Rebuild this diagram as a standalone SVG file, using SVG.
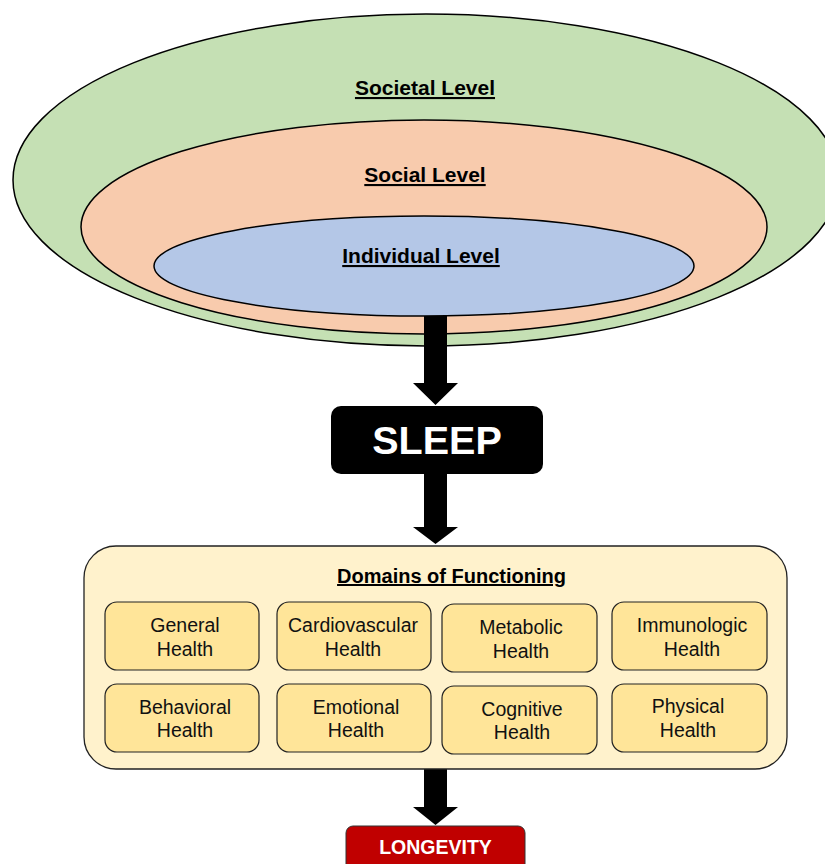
<svg xmlns="http://www.w3.org/2000/svg" width="825" height="864" viewBox="0 0 825 864">
  <style>
    .lvl { font-family: "Liberation Sans", Arial, sans-serif; font-weight: bold; font-size: 21px; text-decoration: underline; fill: #000; text-anchor: middle; }
    .ring { stroke: #000; stroke-width: 1.5; }
    .dom { fill: #ffe599; stroke: #222; stroke-width: 1.2; }
    .dt { font-family: "Liberation Sans", Arial, sans-serif; font-size: 19.5px; fill: #111; text-anchor: middle; }
    .arrow { fill: #000; }
  </style>

  <!-- nested levels -->
  <g id="societal">
    <ellipse class="ring" cx="426" cy="180" rx="413" ry="166" fill="#c5e0b4"/>
    <text class="lvl" x="425" y="95">Societal Level</text>
  </g>
  <g id="social">
    <ellipse class="ring" cx="424" cy="227" rx="343" ry="107" fill="#f8cbad"/>
    <text class="lvl" x="425" y="182">Social Level</text>
  </g>
  <g id="individual">
    <ellipse class="ring" cx="424" cy="266" rx="270" ry="50" fill="#b4c7e7"/>
    <text class="lvl" x="421" y="263">Individual Level</text>
  </g>

  <!-- block arrows -->
  <g id="connectors">
    <polygon class="arrow" points="424,316 447,316 447,383 458,383 435.5,405 413,383 424,383"/>
    <polygon class="arrow" points="424,474 447,474 447,527 458,527 435.5,544 413,527 424,527"/>
    <polygon class="arrow" points="424,769 447,769 447,807 458,807 435.5,825 413,807 424,807"/>
  </g>

  <g id="sleep">
    <rect x="331" y="406" width="212" height="68" rx="10" fill="#000"/>
    <text x="437" y="454" font-family="'Liberation Sans', Arial, sans-serif" font-weight="bold" font-size="39.5" fill="#fff" text-anchor="middle">SLEEP</text>
  </g>

  <g id="domains">
    <rect x="84" y="546" width="703" height="223" rx="32" fill="#fff2cc" stroke="#222" stroke-width="1.3"/>
    <text x="451.5" y="583" font-family="'Liberation Sans', Arial, sans-serif" font-weight="bold" font-size="20" text-decoration="underline" fill="#000" text-anchor="middle">Domains of Functioning</text>
  </g>

  <g id="general">
    <rect class="dom" x="105" y="602" width="154" height="68" rx="12"/>
    <text class="dt" x="185" y="632">General</text>
    <text class="dt" x="185" y="656">Health</text>
  </g>
  <g id="cardiovascular">
    <rect class="dom" x="277" y="602" width="154" height="68" rx="12"/>
    <text class="dt" x="353" y="632">Cardiovascular</text>
    <text class="dt" x="353" y="656">Health</text>
  </g>
  <g id="metabolic">
    <rect class="dom" x="442" y="604" width="155" height="68" rx="12"/>
    <text class="dt" x="521" y="634">Metabolic</text>
    <text class="dt" x="521" y="658">Health</text>
  </g>
  <g id="immunologic">
    <rect class="dom" x="612" y="602" width="155" height="68" rx="12"/>
    <text class="dt" x="692" y="632">Immunologic</text>
    <text class="dt" x="692" y="656">Health</text>
  </g>
  <g id="behavioral">
    <rect class="dom" x="105" y="684" width="154" height="68" rx="12"/>
    <text class="dt" x="185" y="714">Behavioral</text>
    <text class="dt" x="185" y="737">Health</text>
  </g>
  <g id="emotional">
    <rect class="dom" x="277" y="684" width="154" height="68" rx="12"/>
    <text class="dt" x="356" y="714">Emotional</text>
    <text class="dt" x="356" y="737">Health</text>
  </g>
  <g id="cognitive">
    <rect class="dom" x="442" y="686" width="155" height="68" rx="12"/>
    <text class="dt" x="522" y="716">Cognitive</text>
    <text class="dt" x="522" y="739">Health</text>
  </g>
  <g id="physical">
    <rect class="dom" x="612" y="684" width="155" height="68" rx="12"/>
    <text class="dt" x="688" y="713">Physical</text>
    <text class="dt" x="688" y="737">Health</text>
  </g>

  <g id="longevity">
    <rect x="346" y="826" width="179" height="60" rx="7" fill="#c00000" stroke="#333" stroke-width="1"/>
    <text x="435.5" y="854" font-family="'Liberation Sans', Arial, sans-serif" font-weight="bold" font-size="19.5" fill="#fff" text-anchor="middle">LONGEVITY</text>
  </g>
</svg>
